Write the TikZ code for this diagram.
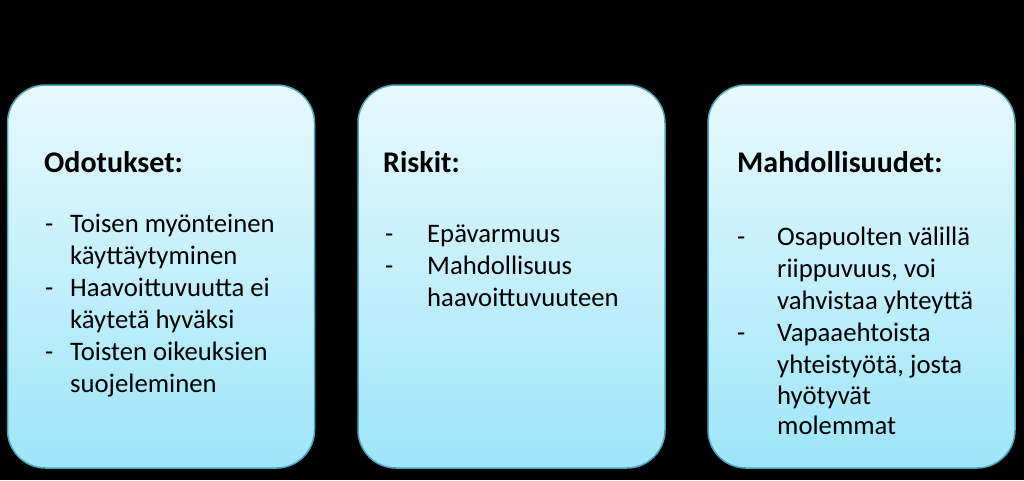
\documentclass[tikz,border=0pt]{standalone}
\usepackage{fontspec}
\setmainfont{Carlito}
\definecolor{boxtop}{HTML}{E8F9FD}
\definecolor{boxbot}{HTML}{9EE5F8}
\definecolor{boxline}{HTML}{4AA6BC}
\begin{document}
\begin{tikzpicture}[x=1pt,y=-1pt,
  box/.style={draw=boxline, line width=1.5pt, rounded corners=38pt, top color=boxtop, bottom color=boxbot, minimum width=307pt, minimum height=383pt, inner sep=0pt},
  title/.style={anchor=base west, inner sep=0pt, font=\fontsize{30}{36}\selectfont\bfseries},
  line/.style={anchor=base west, inner sep=0pt, font=\fontsize{26.7}{32}\selectfont}]
\fill[black] (0,0) rectangle (1024,480);
\useasboundingbox (0,0) rectangle (1024,480);
% boxes
\node[box] (b1) at (161,276.5) {};
\node[box] (b2) at (511.5,276.5) {};
\node[box] (b3) at (861.5,276.5) {};
% box 1
\node[title] (h1) at (44,172) {Odotukset:};
\node[line] (d1a) at (45,232) {-};
\node[line] (l1a) at (70,232) {Toisen myönteinen};
\node[line] (l1b) at (70,264) {käyttäytyminen};
\node[line] (d1b) at (45,296) {-};
\node[line] (l1c) at (70,296) {Haavoittuvuutta ei};
\node[line] (l1d) at (70,328) {käytetä hyväksi};
\node[line] (d1c) at (45,360) {-};
\node[line] (l1e) at (70,360) {Toisten oikeuksien};
\node[line] (l1f) at (70,392) {suojeleminen};
% box 2
\node[title] (h2) at (383,172) {Riskit:};
\node[line] (d2a) at (385,242) {-};
\node[line] (l2a) at (427,242) {Epävarmuus};
\node[line] (d2b) at (385,274) {-};
\node[line] (l2b) at (427,274) {Mahdollisuus};
\node[line] (l2c) at (427,306) {haavoittuvuuteen};
% box 3
\node[title] (h3) at (737,172) {Mahdollisuudet:};
\node[line] (d3a) at (737,245) {-};
\node[line] (l3a) at (777,245) {Osapuolten välillä};
\node[line] (l3b) at (777,277) {riippuvuus, voi};
\node[line] (l3c) at (777,309) {vahvistaa yhteyttä};
\node[line] (d3b) at (737,341) {-};
\node[line] (l3d) at (777,341) {Vapaaehtoista};
\node[line] (l3e) at (777,373) {yhteistyötä, josta};
\node[line] (l3f) at (777,404) {hyötyvät};
\node[line] (l3g) at (777,434) {molemmat};
\end{tikzpicture}
\end{document}
